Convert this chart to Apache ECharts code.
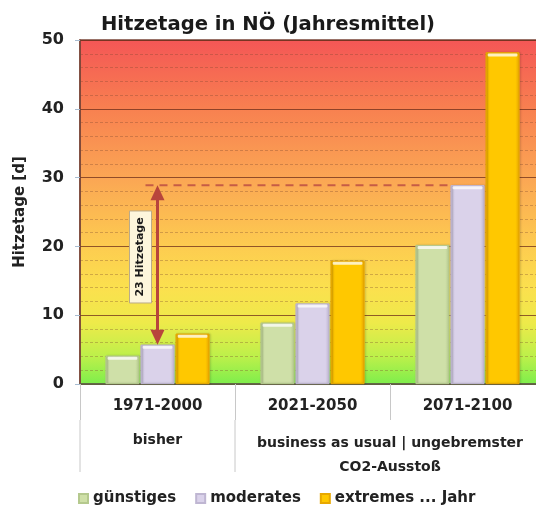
<!DOCTYPE html>
<html>
<head>
<meta charset="utf-8">
<script src="https://cdn.jsdelivr.net/npm/echarts@6/dist/echarts.min.js"></script>
<style>
  html, body { margin: 0; padding: 0; background: #fff; }
  #chart { width: 536px; height: 508px; }
</style>
</head>
<body>
<div id="chart"></div>
<script>
// Hot days per year (days >= 30 °C) in Lower Austria
const periods = ['1971-2000', '2021-2050', '2071-2100'];
const scenarioNames = ['günstiges', 'moderates', 'extremes ... Jahr'];
const favourable = [4.1, 8.9, 20.2];
const moderate = [5.7, 11.7, 28.9];
const extreme = [7.3, 17.9, 48.2];
const yTicks = [0, 10, 20, 30, 40, 50];
const groupLabels = ['bisher', 'business as usual | ungebremster\nCO2-Ausstoß'];

const FONT = 'DejaVu Sans';
const BAR_GAP = 0.04;
const CAT_GAP = 0.33;
const chart = echarts.init(document.getElementById('chart'), null, { renderer: 'canvas' });

function barFill(base, edge) {
  return new echarts.graphic.LinearGradient(0, 0, 1, 0, [
    { offset: 0, color: edge },
    { offset: 0.12, color: base },
    { offset: 0.88, color: base },
    { offset: 1, color: edge }
  ]);
}

const heatBackground = new echarts.graphic.LinearGradient(0, 0, 0, 1, [
  { offset: 0.00, color: '#f45656' },
  { offset: 0.20, color: '#f88050' },
  { offset: 0.40, color: '#fba654' },
  { offset: 0.60, color: '#fdcc50' },
  { offset: 0.72, color: '#fbe04e' },
  { offset: 0.82, color: '#eeea4a' },
  { offset: 0.92, color: '#bcf04a' },
  { offset: 1.00, color: '#7cee4c' }
]);

const seriesStyles = [
  { base: '#cfe0a8', edge: '#b5c98e', legend: '#c4d89a' },
  { base: '#dad2ea', edge: '#bfb6d2', legend: '#cfc6e2' },
  { base: '#ffc800', edge: '#e8a800', legend: '#ffc400' }
];
const seriesData = [favourable, moderate, extreme];

const barSeries = seriesData.map((d, i) => ({
  name: scenarioNames[i],
  type: 'bar',
  data: d,
  color: seriesStyles[i].legend,
  barGap: (BAR_GAP * 100) + '%',
  barCategoryGap: (CAT_GAP * 100) + '%',
  itemStyle: {
    color: barFill(seriesStyles[i].base, seriesStyles[i].edge),
    borderColor: seriesStyles[i].edge,
    borderWidth: 0.8,
    shadowColor: 'rgba(0,0,0,0.25)',
    shadowBlur: 2,
    shadowOffsetX: 1
  },
  z: 3
}));

// light bevel along the top edge of every bar
const capSeries = seriesData.map((d, i) => ({
  type: 'custom',
  silent: true,
  z: 4,
  data: d.map((v, k) => [k, v]),
  renderItem: (params, api) => {
    const top = api.coord([api.value(0), api.value(1)]);
    const band = api.size([1, 0])[0];
    const w = band * (1 - CAT_GAP) / (3 + 2 * BAR_GAP);
    const cx = top[0] + (i - 1) * w * (1 + BAR_GAP);
    return {
      type: 'rect',
      shape: { x: cx - w / 2 + 2, y: top[1] + 1, width: w - 4, height: 3, r: 1 },
      style: { fill: 'rgba(255,255,255,0.75)' }
    };
  }
}));

const option = {
  animation: false,
  textStyle: { fontFamily: FONT },
  title: {
    text: 'Hitzetage in NÖ (Jahresmittel)',
    left: 'center',
    top: 10,
    textStyle: { fontFamily: FONT, fontSize: 19.6, fontWeight: 'bold', color: '#1a1a1a' }
  },
  legend: {
    left: 73,
    top: 486,
    itemWidth: 9,
    itemHeight: 9,
    itemGap: 19,
    icon: 'rect',
    textStyle: { fontFamily: FONT, fontSize: 15, fontWeight: 'bold', color: '#222' },
    data: scenarioNames
  },
  grid: {
    left: 80,
    top: 40,
    width: 465,
    height: 344,
    containLabel: false,
    outerBoundsMode: 'none',
    show: true,
    backgroundColor: heatBackground,
    borderColor: '#7a4638',
    borderWidth: 1.5
  },
  xAxis: {
    type: 'category',
    data: periods,
    axisLine: { show: true, lineStyle: { color: '#5a6a48', width: 1.5 } },
    axisTick: { show: true, interval: 0, length: 36, lineStyle: { color: '#c8c8c8', width: 1 } },
    axisLabel: { margin: 15, fontFamily: FONT, fontSize: 15, fontWeight: 'bold', color: '#222' }
  },
  yAxis: {
    type: 'value',
    min: yTicks[0],
    max: yTicks[yTicks.length - 1],
    interval: 10,
    name: 'Hitzetage [d]',
    nameLocation: 'middle',
    nameRotate: 90,
    nameGap: 52,
    nameTextStyle: { fontFamily: FONT, fontSize: 15, fontWeight: 'bold', color: '#222' },
    axisLine: { show: true, lineStyle: { color: '#7a4638', width: 1.5 } },
    axisTick: { show: true, length: 5, lineStyle: { color: '#a8bcd0' } },
    axisLabel: { margin: 16, fontFamily: FONT, fontSize: 16, fontWeight: 'bold', color: '#222' },
    splitLine: { show: true, lineStyle: { color: 'rgba(110,45,25,0.75)', width: 1.2 } },
    minorTick: { show: false, splitNumber: 5 },
    minorSplitLine: { show: true, lineStyle: { color: 'rgba(120,70,45,0.33)', width: 1, type: [3, 2] } }
  },
  series: barSeries.concat(capSeries)
};

chart.setOption(option);

// Annotations placed through the chart's own scales
function px(cat, v) {
  return chart.convertToPixel({ xAxisIndex: 0, yAxisIndex: 0 }, [cat, v]);
}
const c0 = px(periods[0], 0);
const c1 = px(periods[1], 0);
const c2 = px(periods[2], 0);
const band = c1[0] - c0[0];
const barW = band * (1 - CAT_GAP) / (3 + 2 * BAR_GAP);

const yTop = px(periods[2], moderate[2])[1];
const yBot = px(periods[0], moderate[0])[1];
const arrowX = c0[0];
const lineEndX = c2[0] - barW / 2;
const arrowColor = '#b8453c';
const diff = Math.round(moderate[2] - moderate[0]);
const labelCY = (yTop + yBot) / 2 - 8;

const axisY = c0[1];
const graphics = [
  // reference level of the moderate late-century value
  { type: 'line', z: 20, shape: { x1: arrowX - 12, y1: yTop, x2: lineEndX, y2: yTop },
    style: { stroke: '#c65c45', lineWidth: 2, lineDash: [8, 6] } },
  // double arrow spanning the increase
  { type: 'line', z: 21, shape: { x1: arrowX, y1: yTop + 12, x2: arrowX, y2: yBot - 12 },
    style: { stroke: arrowColor, lineWidth: 3 } },
  { type: 'polygon', z: 21, shape: { points: [[arrowX, yTop], [arrowX - 7, yTop + 15], [arrowX + 7, yTop + 15]] },
    style: { fill: arrowColor } },
  { type: 'polygon', z: 21, shape: { points: [[arrowX, yBot], [arrowX - 7, yBot - 15], [arrowX + 7, yBot - 15]] },
    style: { fill: arrowColor } },
  { type: 'rect', z: 22, shape: { x: arrowX - 28, y: labelCY - 46, width: 22, height: 92 },
    style: { fill: '#fdf6dc', stroke: '#b9ab8a', lineWidth: 1 } },
  { type: 'text', z: 23, x: arrowX - 17, y: labelCY, rotation: Math.PI / 2,
    style: { text: diff + ' Hitzetage', fill: '#1a1a1a', font: 'bold 11px "' + FONT + '"',
      align: 'center', verticalAlign: 'middle' } },
  // longer separators for the scenario groups
  { type: 'line', shape: { x1: c0[0] - band / 2, y1: axisY + 36, x2: c0[0] - band / 2, y2: axisY + 88 },
    style: { stroke: '#c8c8c8', lineWidth: 1 } },
  { type: 'line', shape: { x1: c1[0] - band / 2, y1: axisY + 36, x2: c1[0] - band / 2, y2: axisY + 88 },
    style: { stroke: '#c8c8c8', lineWidth: 1 } },
  // scenario group labels
  { type: 'text', x: c0[0], y: axisY + 49,
    style: { text: groupLabels[0], fill: '#222', font: 'bold 14px "' + FONT + '"', align: 'center', verticalAlign: 'top' } },
  { type: 'text', x: (c1[0] + c2[0]) / 2, y: axisY + 47,
    style: { text: groupLabels[1], fill: '#222', font: 'bold 14px "' + FONT + '"', align: 'center', verticalAlign: 'top', lineHeight: 24 } }
];
chart.setOption({ graphic: graphics });
</script>
</body>
</html>
